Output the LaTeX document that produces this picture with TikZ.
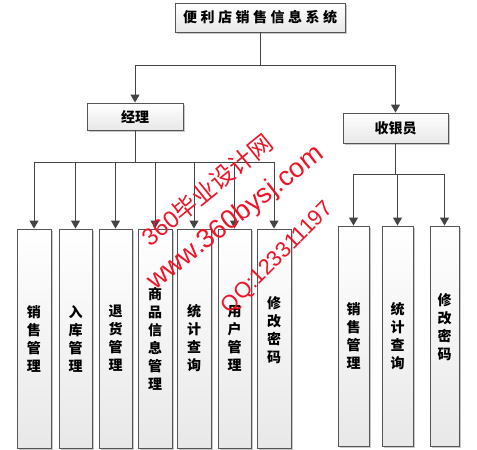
\documentclass[tikz,border=0pt]{standalone}
\usepackage{fontspec}
\setmainfont{Liberation Sans}
\newfontfamily\cjk{Noto Sans CJK SC}
\usetikzlibrary{arrows.meta,shadows,calc}
\definecolor{edgec}{HTML}{555555}
\definecolor{linec}{HTML}{444444}
\definecolor{wm}{HTML}{F01428}
\tikzset{
  box/.style={draw=edgec, line width=0.9pt, shading=axis, top color=white, bottom color=black!9,
    drop shadow={shadow xshift=1.6pt, shadow yshift=-1.6pt, opacity=0.35, fill=black!60},
    inner sep=0pt, font=\cjk\bfseries\fontsize{14}{18}\selectfont, align=center},
  vbox/.style={box, minimum height=219pt},
  conn/.style={draw=linec, line width=1pt},
  arr/.style={conn, -{Triangle[length=8pt,width=9pt]}},
  wmark/.style={text=wm, inner sep=0pt}
}
\begin{document}
\begin{tikzpicture}[x=1pt,y=-1pt]
\useasboundingbox (0,0) rectangle (477,450);
\fill[white] (0,0) rectangle (477,450);
% top level
\node[box, minimum width=170pt, minimum height=29pt] (title) at (260,17.5) {\addfontfeature{LetterSpace=25}便利店销售信息系统};
\node[box, minimum width=96pt, minimum height=27pt] (mgr) at (135,116.5) {经理};
\node[box, minimum width=105pt, minimum height=30pt] (cas) at (395.5,128) {收银员};
% manager functions
\node[vbox, minimum width=34pt] (m1) at (34,338.5) {销\\售\\管\\理};
\node[vbox, minimum width=33pt] (m2) at (75.5,338.5) {入\\库\\管\\理};
\node[vbox, minimum width=33pt] (m3) at (115.5,338.5) {退\\货\\管\\理};
\node[vbox, minimum width=34pt] (m4) at (155,338.5) {商\\品\\信\\息\\管\\理};
\node[vbox, minimum width=34pt] (m5) at (194,338.5) {统\\计\\查\\询};
\node[vbox, minimum width=33pt] (m6) at (234.5,338.5) {用\\户\\管\\理};
\node[vbox, minimum width=34pt] (m7) at (274,338.5) {修\\改\\密\\码\\\mbox{}};
% cashier functions
\node[vbox, minimum width=31pt, minimum height=220pt] (c1) at (353.5,336) {销\\售\\管\\理};
\node[vbox, minimum width=31pt, minimum height=220pt] (c2) at (397.5,336) {统\\计\\查\\询};
\node[vbox, minimum width=29pt, minimum height=220pt] (c3) at (444.5,336) {修\\改\\密\\码\\\mbox{}};
% connectors
\draw[conn] (title.south) -- ++(0,33) coordinate (tbus);
\draw[arr] (tbus) -| (mgr.north);
\draw[arr] (tbus) -| (cas.north);
\draw[conn] (mgr.south) -- ++(0,32) coordinate (mbus);
\foreach \b in {m1,m2,m3,m4,m5,m6,m7} \draw[arr] (mbus) -| (\b.north);
\draw[conn] (cas.south) -- ++(0,31) coordinate (cbus);
\foreach \b in {c1,c2,c3} \draw[arr] (cbus) -| (\b.north);
% watermark
\node[wmark, rotate=39, font=\fontsize{24}{24}\selectfont] (wm1) at (207,190) {360{\cjk 毕业设计网}};
\node[wmark, rotate=38, font=\fontsize{27}{27}\selectfont] (wm2) at (236,218) {www.360bysj.com};
\node[wmark, rotate=45, font=\fontsize{22}{22}\selectfont] (wm3) at (278,258) {QQ:123311197};
\end{tikzpicture}
\end{document}
